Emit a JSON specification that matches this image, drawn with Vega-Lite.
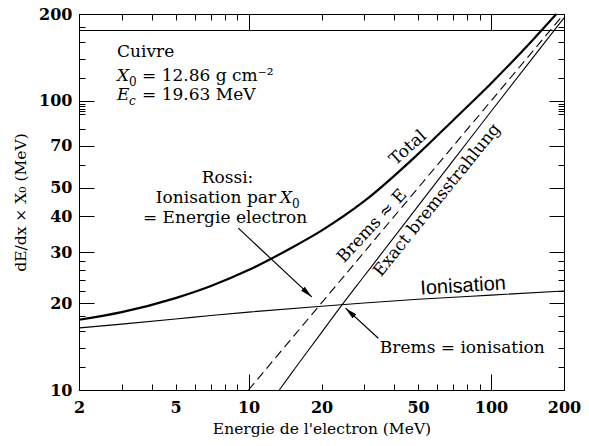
{
  "$schema": "https://vega.github.io/schema/vega-lite/v6.json",
  "width": 485,
  "height": 376,
  "autosize": {"type": "none"},
  "padding": {"left": 79, "top": 14, "right": 25, "bottom": 56},
  "config": {"view": {"stroke": null}},
  "resolve": {"axis": {"x": "independent", "y": "independent"}},
  "layer": [
    {
      "data": {"values": [
        {"E": 2, "v": 17.5}, {"E": 3, "v": 18.6}, {"E": 5, "v": 20.8}, {"E": 7, "v": 22.9}, {"E": 10, "v": 26},
        {"E": 15, "v": 31}, {"E": 20, "v": 35.6}, {"E": 30, "v": 45}, {"E": 50, "v": 65.5}, {"E": 70, "v": 86},
        {"E": 100, "v": 115}, {"E": 150, "v": 164}, {"E": 186, "v": 200}
      ]},
      "mark": {"type": "line", "color": "black", "strokeWidth": 2.2, "interpolate": "monotone"},
      "encoding": {
        "x": {
          "field": "E", "type": "quantitative",
          "scale": {"type": "log", "domain": [2, 200], "nice": false},
          "axis": {
            "orient": "bottom",
            "values": [2, 5, 10, 20, 50, 100, 200],
            "format": "d",
            "ticks": false, "grid": false,
            "domainColor": "black",
            "labelFont": "DejaVu Serif", "labelFontWeight": "bold", "labelFontSize": 16, "labelColor": "black",
            "labelPadding": 9, "labelFlush": false,
            "title": "Energie de l'electron (MeV)",
            "titleFont": "DejaVu Serif", "titleFontSize": 15.5, "titleFontWeight": "normal", "titleColor": "black",
            "titlePadding": 6
          }
        },
        "y": {
          "field": "v", "type": "quantitative",
          "scale": {"type": "log", "domain": [10, 200], "nice": false},
          "axis": {
            "orient": "left",
            "values": [10, 20, 30, 40, 50, 70, 100, 200],
            "format": "d",
            "ticks": false, "grid": false,
            "domainColor": "black",
            "labelFont": "DejaVu Serif", "labelFontWeight": "bold", "labelFontSize": 16, "labelColor": "black",
            "labelPadding": 7, "labelFlush": false,
            "title": "dE/dx × X₀ (MeV)",
            "titleFont": "DejaVu Serif", "titleFontSize": 15.5, "titleFontWeight": "normal", "titleColor": "black",
            "titlePadding": 10
          }
        }
      }
    },
    {
      "data": {"values": [
        {"curve": "Ionisation", "E": 2, "v": 16.4}, {"curve": "Ionisation", "E": 3, "v": 16.9}, {"curve": "Ionisation", "E": 5, "v": 17.6},
        {"curve": "Ionisation", "E": 7, "v": 18.1}, {"curve": "Ionisation", "E": 10, "v": 18.6}, {"curve": "Ionisation", "E": 20, "v": 19.5},
        {"curve": "Ionisation", "E": 30, "v": 20.0}, {"curve": "Ionisation", "E": 50, "v": 20.6}, {"curve": "Ionisation", "E": 100, "v": 21.3},
        {"curve": "Ionisation", "E": 200, "v": 22.0},
        {"curve": "Exact", "E": 13.4, "v": 10}, {"curve": "Exact", "E": 15, "v": 11.4}, {"curve": "Exact", "E": 20, "v": 15.8},
        {"curve": "Exact", "E": 24.3, "v": 19.7}, {"curve": "Exact", "E": 30, "v": 24.8}, {"curve": "Exact", "E": 50, "v": 43.3},
        {"curve": "Exact", "E": 70, "v": 62.4}, {"curve": "Exact", "E": 100, "v": 92}, {"curve": "Exact", "E": 150, "v": 142.5},
        {"curve": "Exact", "E": 200, "v": 194}
      ]},
      "mark": {"type": "line", "color": "black", "strokeWidth": 1.1, "interpolate": "monotone"},
      "encoding": {
        "x": {
          "field": "E", "type": "quantitative",
          "axis": {
            "orient": "top",
            "values": [2, 3, 4, 5, 6, 7, 8, 9, 10, 20, 30, 40, 50, 60, 70, 80, 90, 100, 200],
            "labels": false, "domain": false,
            "tickSize": 6, "offset": -6, "tickColor": "black",
            "title": null
          }
        },
        "y": {
          "field": "v", "type": "quantitative",
          "axis": {
            "orient": "right",
            "values": [10, 12, 14, 16, 18, 20, 22, 24, 26, 28, 30, 40, 50, 60, 70, 80, 90, 92, 94, 96, 98, 100, 120, 140, 160, 180, 200],
            "labels": false, "domain": false,
            "tickSize": 6, "offset": -6, "tickColor": "black",
            "title": null
          }
        },
        "detail": {"field": "curve"}
      }
    },
    {
      "data": {"values": [{"E": 10, "v": 10}, {"E": 200, "v": 200}]},
      "mark": {"type": "line", "color": "black", "strokeWidth": 1.1, "strokeDash": [9, 5]},
      "encoding": {
        "x": {"field": "E", "type": "quantitative", "axis": {
            "orient": "bottom",
            "values": [2, 3, 4, 5, 6, 7, 8, 9, 10, 20, 30, 40, 50, 60, 70, 80, 90, 100, 200],
            "labels": false, "domain": false,
            "tickSize": 6, "offset": -6, "tickColor": "black",
            "title": null
          }},
        "y": {"field": "v", "type": "quantitative", "axis": {
            "orient": "left",
            "values": [10, 12, 14, 16, 18, 20, 22, 24, 26, 28, 30, 40, 50, 60, 70, 80, 90, 92, 94, 96, 98, 100, 120, 140, 160, 180, 200],
            "labels": false, "domain": false,
            "tickSize": 6, "offset": -6, "tickColor": "black",
            "title": null
          }}
      }
    },
    {
      "data": {"values": [
        {"E": 9.08, "v": 36.3, "E2": 18.23, "v2": 21.0},
        {"E": 34.3, "v": 15.1, "E2": 25.13, "v2": 19.2}
      ]},
      "mark": {"type": "rule", "color": "black", "strokeWidth": 1.2},
      "encoding": {
        "x": {"field": "E", "type": "quantitative", "axis": {
            "orient": "top", "values": [2, 10, 100, 200],
            "labels": false, "domainColor": "black",
            "tickSize": 16, "offset": -16, "tickColor": "black",
            "title": null
          }},
        "y": {"field": "v", "type": "quantitative", "axis": {
            "orient": "right", "values": [10, 20, 30, 40, 50, 70, 100, 200],
            "labels": false, "domain": false,
            "tickSize": 15, "offset": -15, "tickColor": "black",
            "title": null
          }},
        "x2": {"field": "E2"},
        "y2": {"field": "v2"}
      }
    },
    {
      "data": {"values": [{"E": 18.23, "v": 21.0}]},
      "mark": {"type": "point", "shape": "M0,0L-0.45,2L0.45,2Z", "filled": true, "color": "black", "opacity": 1, "size": 144, "angle": 133},
      "encoding": {
        "x": {"field": "E", "type": "quantitative", "axis": {
            "orient": "bottom", "values": [10, 100],
            "labels": false, "domain": false,
            "tickSize": 16, "offset": -16, "tickColor": "black",
            "title": null
          }},
        "y": {"field": "v", "type": "quantitative", "axis": {
            "orient": "left", "values": [10, 20, 30, 40, 50, 70, 100, 200],
            "labels": false, "domain": false,
            "tickSize": 15, "offset": -15, "tickColor": "black",
            "title": null
          }}
      }
    },
    {
      "data": {"values": [{"E": 25.13, "v": 19.2}]},
      "mark": {"type": "point", "shape": "M0,0L-0.45,2L0.45,2Z", "filled": true, "color": "black", "opacity": 1, "size": 144, "angle": 313},
      "encoding": {
        "x": {"field": "E", "type": "quantitative", "axis": {
            "orient": "top", "values": [2, 200],
            "labels": false, "domainColor": "black", "ticks": false,
            "title": null
          }},
        "y": {"field": "v", "type": "quantitative", "axis": {
            "orient": "right", "values": [10, 200],
            "labels": false, "domainColor": "black", "ticks": false,
            "title": null
          }}
      }
    },
    {
      "data": {"values": [
        {"E": 2.87, "v": 141.6, "t": "Cuivre"},
        {"E": 34.8, "v": 13.4, "t": "Brems = ionisation"}
      ]},
      "mark": {"type": "text", "align": "left", "baseline": "alphabetic", "font": "DejaVu Serif", "fontSize": 17, "color": "black"},
      "encoding": {
        "x": {"field": "E", "type": "quantitative", "axis": null},
        "y": {"field": "v", "type": "quantitative", "axis": null},
        "text": {"field": "t"}
      }
    },
    {
      "data": {"values": [
        {"E": 8.19, "v": 52.2, "t": "Rossi:"},
        {"E": 8.0, "v": 37.8, "t": "= Energie electron"}
      ]},
      "mark": {"type": "text", "align": "center", "baseline": "alphabetic", "font": "DejaVu Serif", "fontSize": 17, "color": "black"},
      "encoding": {
        "x": {"field": "E", "type": "quantitative", "axis": null},
        "y": {"field": "v", "type": "quantitative", "axis": null},
        "text": {"field": "t"}
      }
    },
    {
      "data": {"values": [{"E": 13.49, "v": 44.4, "t": "Ionisation par"}]},
      "mark": {"type": "text", "align": "right", "baseline": "alphabetic", "dx": -4, "font": "DejaVu Serif", "fontSize": 17, "color": "black"},
      "encoding": {
        "x": {"field": "E", "type": "quantitative", "axis": null},
        "y": {"field": "v", "type": "quantitative", "axis": null},
        "text": {"field": "t"}
      }
    },
    {
      "data": {"values": [
        {"E": 2.87, "v": 117.3, "t": "X"},
        {"E": 2.87, "v": 100.8, "t": "E"},
        {"E": 13.49, "v": 44.4, "t": "X"}
      ]},
      "mark": {"type": "text", "align": "left", "baseline": "alphabetic", "fontStyle": "italic", "font": "DejaVu Serif", "fontSize": 17, "color": "black"},
      "encoding": {
        "x": {"field": "E", "type": "quantitative", "axis": null},
        "y": {"field": "v", "type": "quantitative", "axis": null},
        "text": {"field": "t"}
      }
    },
    {
      "data": {"values": [
        {"E": 2.87, "v": 117.3, "t": "0"},
        {"E": 13.49, "v": 44.4, "t": "0"}
      ]},
      "mark": {"type": "text", "align": "left", "baseline": "alphabetic", "font": "DejaVu Serif", "fontSize": 12, "color": "black", "dx": 12, "dy": 5},
      "encoding": {
        "x": {"field": "E", "type": "quantitative", "axis": null},
        "y": {"field": "v", "type": "quantitative", "axis": null},
        "text": {"field": "t"}
      }
    },
    {
      "data": {"values": [{"E": 2.87, "v": 100.8, "t": "c"}]},
      "mark": {"type": "text", "align": "left", "baseline": "alphabetic", "font": "DejaVu Serif", "fontSize": 12, "fontStyle": "italic", "color": "black", "dx": 12, "dy": 5},
      "encoding": {
        "x": {"field": "E", "type": "quantitative", "axis": null},
        "y": {"field": "v", "type": "quantitative", "axis": null},
        "text": {"field": "t"}
      }
    },
    {
      "data": {"values": [
        {"E": 2.87, "v": 117.3, "t": "= 12.86 g cm⁻²"},
        {"E": 2.87, "v": 100.8, "t": "= 19.63 MeV"}
      ]},
      "mark": {"type": "text", "align": "left", "baseline": "alphabetic", "dx": 25, "font": "DejaVu Serif", "fontSize": 17, "color": "black"},
      "encoding": {
        "x": {"field": "E", "type": "quantitative", "axis": null},
        "y": {"field": "v", "type": "quantitative", "axis": null},
        "text": {"field": "t"}
      }
    },
    {
      "data": {"values": [{"E": 45.5, "v": 68.8, "t": "Total"}]},
      "mark": {"type": "text", "align": "center", "baseline": "middle", "angle": -42, "font": "DejaVu Serif", "fontSize": 17, "color": "black"},
      "encoding": {
        "x": {"field": "E", "type": "quantitative", "axis": null},
        "y": {"field": "v", "type": "quantitative", "axis": null},
        "text": {"field": "t"}
      }
    },
    {
      "data": {"values": [{"E": 32.3, "v": 36.9, "t": "Brems ≈ E"}]},
      "mark": {"type": "text", "align": "center", "baseline": "middle", "angle": -47, "font": "DejaVu Serif", "fontSize": 17, "color": "black"},
      "encoding": {
        "x": {"field": "E", "type": "quantitative", "axis": null},
        "y": {"field": "v", "type": "quantitative", "axis": null},
        "text": {"field": "t"}
      }
    },
    {
      "data": {"values": [{"E": 59.9, "v": 45.4, "t": "Exact bremsstrahlung"}]},
      "mark": {"type": "text", "align": "center", "baseline": "middle", "angle": -51, "font": "DejaVu Serif", "fontSize": 17, "color": "black"},
      "encoding": {
        "x": {"field": "E", "type": "quantitative", "axis": null},
        "y": {"field": "v", "type": "quantitative", "axis": null},
        "text": {"field": "t"}
      }
    },
    {
      "data": {"values": [{"E": 76.7, "v": 22.9, "t": "Ionisation"}]},
      "mark": {"type": "text", "align": "center", "baseline": "middle", "angle": -3.5, "font": "Liberation Sans", "fontSize": 20, "color": "black"},
      "encoding": {
        "x": {"field": "E", "type": "quantitative", "axis": null},
        "y": {"field": "v", "type": "quantitative", "axis": null},
        "text": {"field": "t"}
      }
    }
  ]
}
